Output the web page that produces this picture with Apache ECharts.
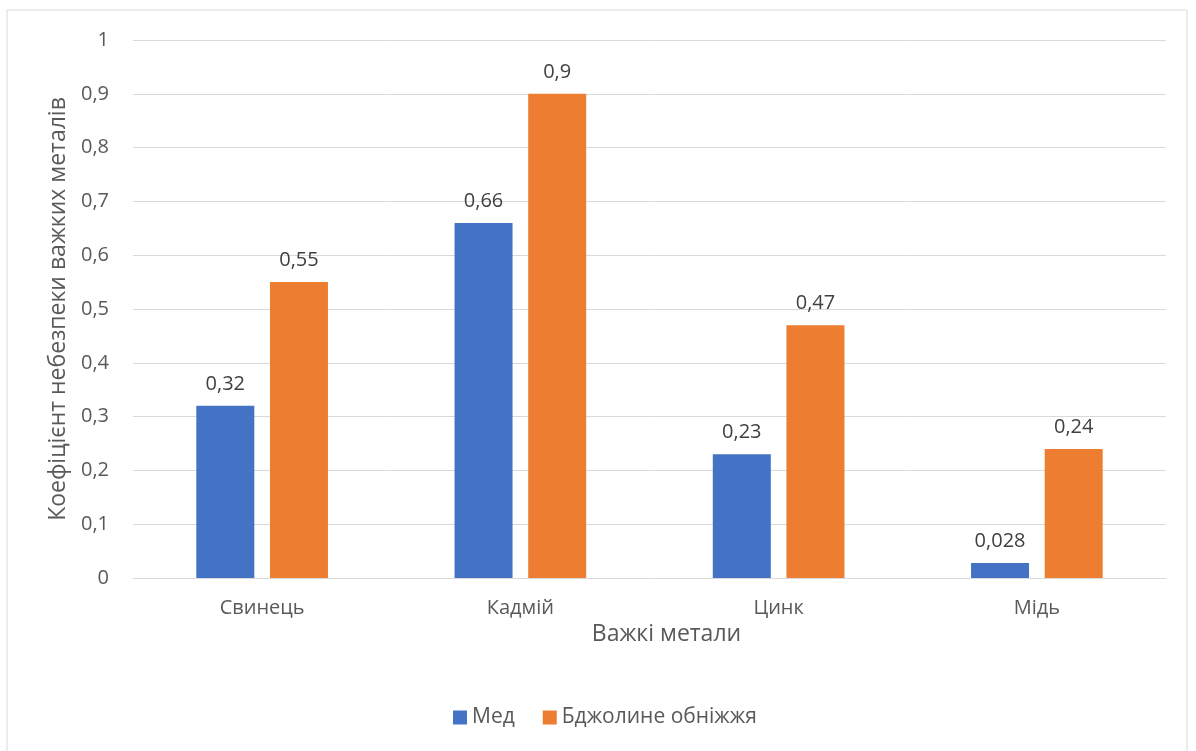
<!DOCTYPE html>
<html>
<head>
<meta charset="utf-8">
<script src="https://cdn.jsdelivr.net/npm/echarts@6/dist/echarts.min.js"></script>
<style>
  html, body { margin: 0; padding: 0; background: #fff; }
  #main { width: 1196px; height: 751px; }
</style>
</head>
<body>
<div id="main"></div>
<script>
// data
const categories = ["Свинець", "Кадмій", "Цинк", "Мідь"];
const honey = [0.32, 0.66, 0.23, 0.028];
const pollen = [0.55, 0.9, 0.47, 0.24];
const seriesNames = ["Мед", "Бджолине обніжжя"];

const font = "'Open Sans', 'Noto Sans', sans-serif";
const fmt = (p) => String(p.value).replace(".", ",");

let myChart = echarts.init(document.getElementById("main"));

let options = {
  backgroundColor: "#fff",
  textStyle: { fontFamily: font },
  graphic: [
    {
      type: "rect",
      shape: { x: 7, y: 10, width: 1180, height: 760 },
      style: { fill: "none", stroke: "#d9d9d9", lineWidth: 1 },
      silent: true
    }
  ],
  grid: { left: 133, right: 30, top: 40, bottom: 173 },
  legend: {
    bottom: 18,
    left: 448,
    itemWidth: 14,
    itemHeight: 14,
    itemGap: 28,
    icon: "rect",
    textStyle: { fontSize: 21, color: "#595959", fontFamily: font },
    data: seriesNames
  },
  xAxis: {
    type: "category",
    data: categories,
    name: "Важкі метали",
    nameLocation: "middle",
    nameGap: 44,
    nameTextStyle: { fontSize: 23, color: "#595959", padding: [0, 0, 0, 34] },
    axisLine: { lineStyle: { color: "#d9d9d9" } },
    axisTick: { show: false },
    axisLabel: { fontSize: 20, color: "#595959", margin: 20 }
  },
  yAxis: {
    type: "value",
    min: 0,
    max: 1,
    interval: 0.1,
    name: "Коефіцієнт небезпеки важких металів",
    nameLocation: "middle",
    nameGap: 58,
    nameTextStyle: { fontSize: 23, color: "#595959" },
    axisLine: { show: false },
    axisTick: { show: false },
    axisLabel: {
      fontSize: 20,
      color: "#595959",
      margin: 24,
      formatter: (v) => String(Math.round(v * 10) / 10).replace(".", ",")
    },
    splitLine: { lineStyle: { color: "#d9d9d9" } }
  },
  series: [
    {
      name: seriesNames[0],
      type: "bar",
      data: honey,
      barWidth: 58,
      barGap: "27%",
      itemStyle: { color: "#4472c4" },
      label: { show: true, position: "top", distance: 12, fontSize: 20, color: "#404040", formatter: fmt }
    },
    {
      name: seriesNames[1],
      type: "bar",
      data: pollen,
      barWidth: 58,
      itemStyle: { color: "#ed7d31" },
      label: { show: true, position: "top", distance: 12, fontSize: 20, color: "#404040", formatter: fmt }
    }
  ]
};
myChart.setOption(options);
</script>
</body>
</html>
